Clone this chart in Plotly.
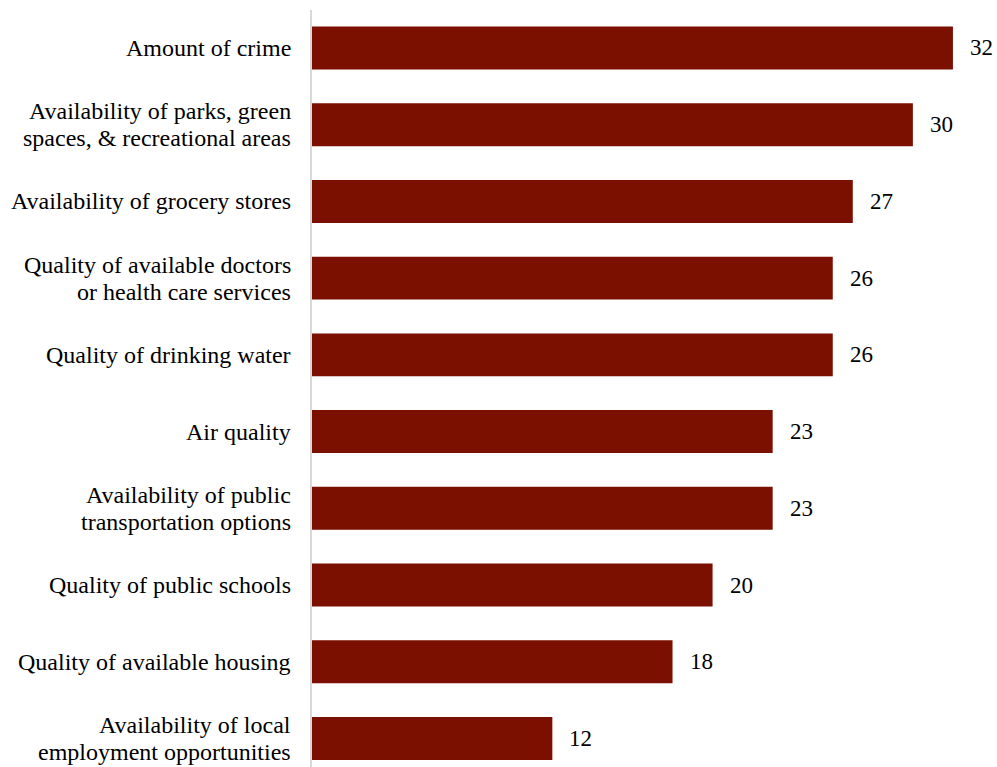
import plotly.graph_objects as go

# Category labels, one list entry per line of text
categories = [
    ["Amount of crime"],
    ["Availability of parks, green", "spaces, & recreational areas"],
    ["Availability of grocery stores"],
    ["Quality of available doctors", "or health care services"],
    ["Quality of drinking water"],
    ["Air quality"],
    ["Availability of public", "transportation options"],
    ["Quality of public schools"],
    ["Quality of available housing"],
    ["Availability of local", "employment opportunities"],
]
values = [32, 30, 27, 26, 26, 23, 23, 20, 18, 12]

positions = list(range(len(categories)))
bar_color = "#7B0F00"
font_family = "Liberation Serif"
label_size = 24
value_size = 23
line_gap = 27

fig = go.Figure()
fig.add_trace(go.Bar(
    x=values,
    y=positions,
    orientation="h",
    width=0.56,
    marker=dict(color=bar_color, line=dict(width=0)),
    hoverinfo="skip",
))

# value labels just past the end of each bar
for pos, val in zip(positions, values):
    fig.add_annotation(
        x=val, y=pos, text=str(val), showarrow=False,
        xanchor="left", yanchor="middle", xshift=15,
        font=dict(family=font_family, size=value_size, color="black"),
    )

# category labels, right-aligned to the left of the axis line
for pos, lines in zip(positions, categories):
    n = len(lines)
    for i, line in enumerate(lines):
        offset = (i - (n - 1) / 2) * line_gap
        fig.add_annotation(
            xref="paper", x=0, y=pos, text=line, showarrow=False,
            xanchor="right", yanchor="middle", xshift=-19, yshift=-offset,
            font=dict(family=font_family, size=label_size, color="black"),
        )

fig.update_layout(
    width=997, height=767,
    margin=dict(l=312, r=0, t=10, b=0),
    paper_bgcolor="white", plot_bgcolor="white",
    showlegend=False,
    font=dict(family=font_family, size=label_size, color="black"),
)
fig.update_xaxes(range=[0, 34.2], visible=False, showgrid=False, zeroline=False)
fig.update_yaxes(
    range=[9.372, -0.495],
    showticklabels=False,
    showgrid=False, zeroline=False,
    showline=True, linecolor="#D9D9D9", linewidth=2,
    ticks="",
)

fig.write_html("out.html")
